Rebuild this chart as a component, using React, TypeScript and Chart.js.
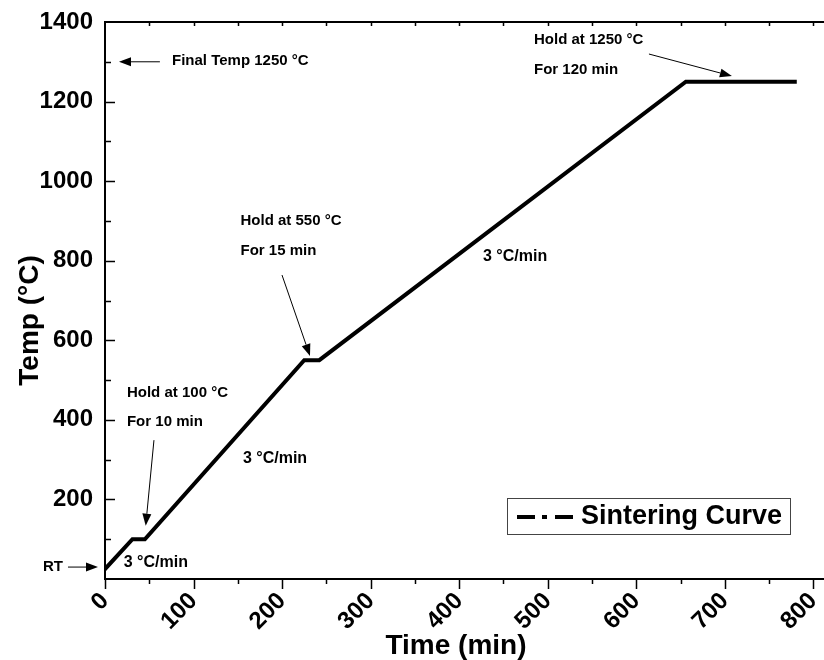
import React, { useEffect, useRef } from "react";
import { Chart, registerables } from "chart.js";

Chart.register(...registerables);

// ---- data ----
const timeMin = [0, 31, 45, 225, 242, 656, 779];
const tempC = [25, 100, 100, 550, 550, 1250, 1250];
const xTicks = [0, 100, 200, 300, 400, 500, 600, 700, 800];
const yTicks = [200, 400, 600, 800, 1000, 1200, 1400];
const seriesLabel = "Sintering Curve";
const xTitle = "Time (min)";
const yTitle = "Temp (°C)";

// annotation texts (data coordinates: time, temp)
const noteTexts = [
  "Final Temp 1250 °C",
  "Hold at 1250 °C",
  "For 120 min",
  "Hold at 550 °C",
  "For 15 min",
  "Hold at 100 °C",
  "For 10 min",
  "3 °C/min",
  "3 °C/min",
  "3 °C/min",
  "RT",
];
const noteX = [75.7, 484.5, 484.5, 153, 153, 24.8, 24.8, 21.2, 155.8, 426.9, -70];
const noteY = [1302, 1355, 1279, 900, 824, 468, 395, 41, 301.6, 810, 31];
const noteSize = [15, 15, 15, 15, 15, 15, 15, 16, 16, 16, 15];

// arrows: from (x1,y1) to (x2,y2), head at end
const arrowX1 = [62, 614.3, 199.9, 55.3, -41.8];
const arrowY1 = [1300, 1319.5, 764, 349, 30];
const arrowX2 = [15.8, 708, 231.5, 45.96, -7.9];
const arrowY2 = [1300, 1264, 560.5, 134, 30];

const FONT = "'Liberation Sans', Arial, Helvetica, sans-serif";

const decorPlugin = {
  id: "decor",
  afterDatasetsDraw(chart: any) {
    const { ctx, chartArea } = chart;
    const xs = chart.scales.x;
    const ys = chart.scales.y;
    const { left, right, top, bottom } = chartArea;
    ctx.save();
    ctx.strokeStyle = "#000";
    ctx.fillStyle = "#000";
    // frame
    ctx.lineWidth = 2;
    ctx.beginPath();
    ctx.moveTo(left, top);
    ctx.lineTo(left, bottom);
    ctx.moveTo(left - 1, bottom);
    ctx.lineTo(right + 2, bottom);
    ctx.moveTo(left - 1, top);
    ctx.lineTo(right + 2, top);
    ctx.stroke();
    // y ticks (inward)
    ctx.lineWidth = 1.5;
    ctx.beginPath();
    for (let v = 100; v < 1400; v += 100) {
      const y = Math.round(ys.getPixelForValue(v)) + 0.5;
      const len = v % 200 === 0 ? 10 : 6;
      ctx.moveTo(left, y);
      ctx.lineTo(left + len, y);
    }
    // x ticks bottom (outward)
    for (let v = 0; v <= 800; v += 50) {
      const x = Math.round(xs.getPixelForValue(v)) + 0.5;
      const len = v % 100 === 0 ? 10 : 5;
      ctx.moveTo(x, bottom);
      ctx.lineTo(x, bottom + len);
    }
    // x ticks top
    for (let v = 50; v <= 800; v += 50) {
      const x = Math.round(xs.getPixelForValue(v)) + 0.5;
      ctx.moveTo(x, top);
      ctx.lineTo(x, top + 4);
    }
    ctx.stroke();

    // axis titles
    ctx.font = `bold 28px ${FONT}`;
    ctx.textAlign = "center";
    ctx.textBaseline = "middle";
    ctx.fillText(xTitle, left + 351, bottom + 67);
    ctx.save();
    ctx.translate(30, (top + bottom) / 2 + 20);
    ctx.rotate(-Math.PI / 2);
    ctx.fillText(yTitle, 0, 0);
    ctx.restore();

    // annotations
    ctx.textBaseline = "middle";
    ctx.textAlign = "left";
    noteTexts.forEach((t, i) => {
      ctx.font = `bold ${noteSize[i]}px ${FONT}`;
      ctx.fillText(t, xs.getPixelForValue(noteX[i]), ys.getPixelForValue(noteY[i]));
    });
    // arrows
    ctx.lineWidth = 1;
    arrowX1.forEach((_, i) => {
      const x1 = xs.getPixelForValue(arrowX1[i]);
      const y1 = ys.getPixelForValue(arrowY1[i]);
      const x2 = xs.getPixelForValue(arrowX2[i]);
      const y2 = ys.getPixelForValue(arrowY2[i]);
      const ang = Math.atan2(y2 - y1, x2 - x1);
      const hl = 12;
      const hw = 4.5;
      const bx = x2 - hl * Math.cos(ang);
      const by = y2 - hl * Math.sin(ang);
      ctx.beginPath();
      ctx.moveTo(x1, y1);
      ctx.lineTo(bx, by);
      ctx.stroke();
      ctx.beginPath();
      ctx.moveTo(x2, y2);
      ctx.lineTo(bx + hw * Math.sin(ang), by - hw * Math.cos(ang));
      ctx.lineTo(bx - hw * Math.sin(ang), by + hw * Math.cos(ang));
      ctx.closePath();
      ctx.fill();
    });

    // legend
    const lx = right - 317;
    const ly = bottom - 81;
    ctx.strokeStyle = "#444";
    ctx.lineWidth = 1;
    ctx.strokeRect(Math.round(lx) + 0.5, Math.round(ly) + 0.5, 283, 36);
    ctx.strokeStyle = "#000";
    ctx.lineWidth = 4;
    const sy = ly + 19;
    ctx.beginPath();
    ctx.moveTo(lx + 10, sy);
    ctx.lineTo(lx + 28, sy);
    ctx.moveTo(lx + 35, sy);
    ctx.lineTo(lx + 40, sy);
    ctx.moveTo(lx + 48, sy);
    ctx.lineTo(lx + 66, sy);
    ctx.stroke();
    ctx.font = `bold 27px ${FONT}`;
    ctx.textBaseline = "middle";
    ctx.fillText(seriesLabel, lx + 74, sy);
    ctx.restore();
  },
};

export default function App() {
  const ref = useRef<HTMLCanvasElement | null>(null);
  useEffect(() => {
    if (!ref.current) return;
    const chart = new Chart(ref.current, {
      type: "line",
      data: {
        datasets: [
          {
            label: seriesLabel,
            data: timeMin.map((t, i) => ({ x: t, y: tempC[i] })),
            borderColor: "#000",
            borderWidth: 4,
            pointRadius: 0,
            tension: 0,
            fill: false,
            borderJoinStyle: "miter",
            borderCapStyle: "square",
          },
        ],
      },
      options: {
        animation: false,
        responsive: false,
        devicePixelRatio: 1,
        layout: { padding: { top: 22, right: 0, left: 0, bottom: 0 } },
        plugins: { legend: { display: false }, tooltip: { enabled: false } },
        scales: {
          x: {
            type: "linear",
            min: 0,
            max: 812,
            afterBuildTicks: (s: any) => {
              s.ticks = xTicks.map((v) => ({ value: v }));
            },
            afterFit: (s: any) => {
              s.height = 81;
              s.paddingLeft = 0;
              s.paddingRight = 0;
            },
            grid: { display: false, drawTicks: false },
            border: { display: false },
            ticks: {
              font: { family: FONT, size: 24, weight: "bold" },
              color: "#000",
              minRotation: 45,
              maxRotation: 45,
              autoSkip: false,
              padding: 8,
              callback: (v: any) => String(v),
            },
            title: { display: false },
          },
          y: {
            type: "linear",
            min: 0,
            max: 1400,
            afterBuildTicks: (s: any) => {
              s.ticks = yTicks.map((v) => ({ value: v }));
            },
            afterFit: (s: any) => {
              s.width = 105;
              s.paddingTop = 0;
              s.paddingBottom = 0;
            },
            grid: { display: false, drawTicks: false },
            border: { display: false },
            ticks: {
              font: { family: FONT, size: 24, weight: "bold" },
              color: "#000",
              padding: 12,
              callback: (v: any) => String(v),
            },
            title: { display: false },
          },
        },
      } as any,
      plugins: [decorPlugin],
    });
    return () => chart.destroy();
  }, []);
  return (
    <div style={{ position: "absolute", left: 0, top: 0, width: 824, height: 660, background: "#fff" }}>
      <canvas ref={ref} width={824} height={660} style={{ width: 824, height: 660 }} />
    </div>
  );
}
